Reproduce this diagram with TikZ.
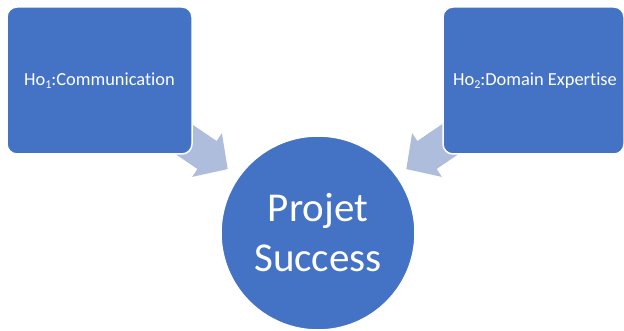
\documentclass[tikz,border=0pt]{standalone}
\usepackage{fontspec}
\setmainfont{Carlito}[Ligatures=NoCommon]
\definecolor{boxblue}{RGB}{68,114,196}
\definecolor{arrowblue}{RGB}{175,189,221}
\newcommand\hsub[1]{\raisebox{-0.18em}{\fontsize{12}{12}\selectfont #1}}
\begin{document}
\begin{tikzpicture}[x=1pt,y=-1pt,
  box/.style={fill=boxblue,draw=white,line width=1.5pt,rounded corners=10pt,text=white,font=\fontsize{18.4}{22}\selectfont,inner sep=0pt},
  bigcircle/.style={circle,fill=boxblue,draw=white,line width=1.5pt,minimum size=194pt,text=white,font=\fontsize{41}{50}\selectfont,align=center,inner sep=0pt},
  blockarrow/.style={fill=arrowblue,draw=none}]
\useasboundingbox (0,0) rectangle (624,331);
% block arrows
\fill[blockarrow] (179.4,115.7) -- (216.6,141.0) -- (221.9,133.1) -- (227.7,169.1) -- (192.1,176.9) -- (197.4,169.0) -- (160.2,143.7) -- cycle;
\begin{scope}[xshift=634pt,xscale=-1]
\fill[blockarrow] (179.4,115.7) -- (216.6,141.0) -- (221.9,133.1) -- (227.7,169.1) -- (192.1,176.9) -- (197.4,169.0) -- (160.2,143.7) -- cycle;
\end{scope}
% boxes
\node[box,minimum width=185pt,minimum height=147pt] (h1) at (99.5,80.5) {Ho\hsub{1}:Communication};
\node[box,minimum width=181pt,minimum height=147pt] (h2) at (533.5,80.5) {\hspace{3pt}Ho\hsub{2}:Domain Expertise};
% circle
\node[bigcircle] (ps) at (318,233) {Projet\\Success};
\end{tikzpicture}
\end{document}
